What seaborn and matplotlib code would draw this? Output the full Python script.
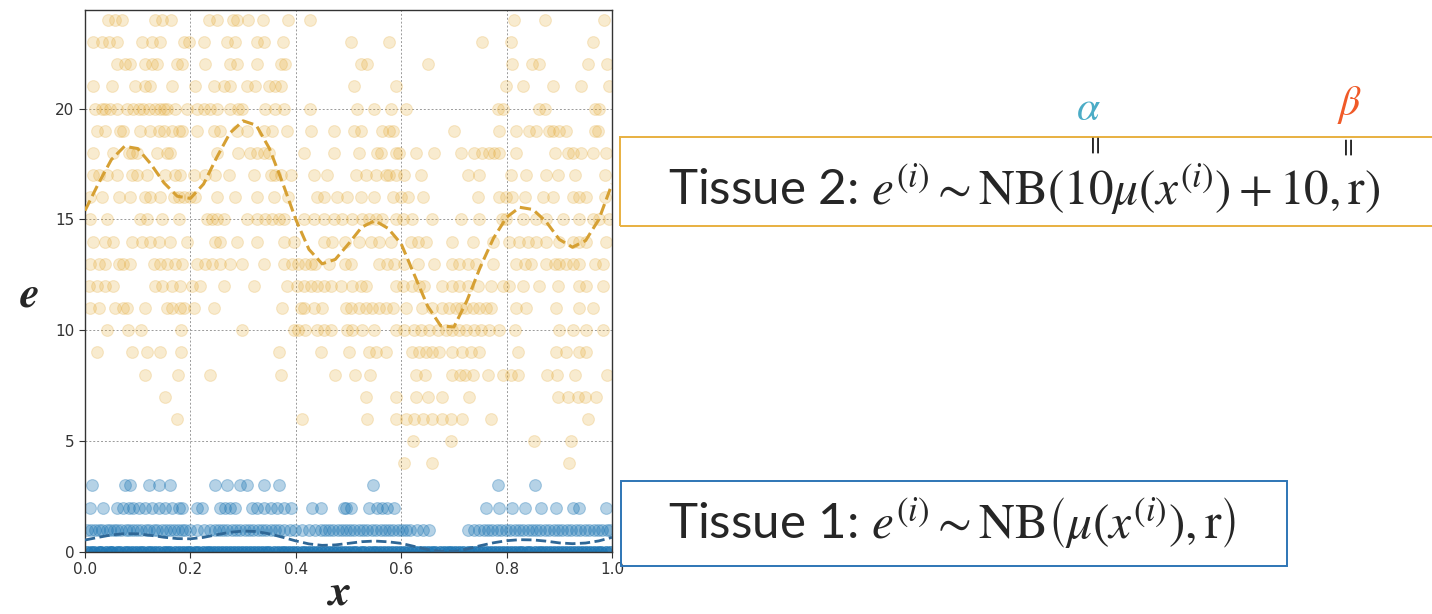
import numpy as np
import pandas as pd
import matplotlib
matplotlib.use("Agg")
import matplotlib.pyplot as plt
from matplotlib.patches import Rectangle
import seaborn as sns

# valores: posições x de cada nível de contagem e
# tecido 2 (laranja)
t2_24 = [0.043, 0.056, 0.071, 0.132, 0.147, 0.164, 0.236, 0.25, 0.28, 0.288, 0.309, 0.338, 0.385, 0.426, 0.814, 0.873, 0.985]
t2_23 = [0.016, 0.032, 0.045, 0.06, 0.108, 0.127, 0.143, 0.187, 0.197, 0.225, 0.27, 0.285, 0.326, 0.339, 0.376, 0.504, 0.577, 0.754, 0.808, 0.963]
t2_22 = [0.06, 0.076, 0.086, 0.114, 0.127, 0.137, 0.175, 0.184, 0.228, 0.276, 0.288, 0.326, 0.371, 0.38, 0.523, 0.536, 0.65, 0.811, 0.849, 0.862, 0.954, 0.99]
t2_21 = [0.016, 0.051, 0.095, 0.114, 0.124, 0.165, 0.209, 0.244, 0.263, 0.276, 0.307, 0.323, 0.349, 0.361, 0.371, 0.511, 0.59, 0.799, 0.831, 0.888, 0.942, 0.995]
t2_20 = [0.019, 0.032, 0.038, 0.048, 0.06, 0.079, 0.092, 0.102, 0.111, 0.121, 0.133, 0.143, 0.149, 0.155, 0.171, 0.193, 0.212, 0.225, 0.238, 0.25, 0.276, 0.291, 0.298, 0.342, 0.361, 0.377, 0.426, 0.517, 0.549, 0.581, 0.609, 0.783, 0.793, 0.862, 0.872, 0.967, 0.976]
t2_19 = [0.022, 0.038, 0.067, 0.073, 0.105, 0.124, 0.14, 0.149, 0.165, 0.178, 0.184, 0.212, 0.244, 0.257, 0.288, 0.307, 0.339, 0.355, 0.383, 0.428, 0.472, 0.511, 0.523, 0.564, 0.577, 0.584, 0.701, 0.786, 0.818, 0.843, 0.856, 0.881, 0.888, 0.9, 0.913, 0.967, 0.973]
t2_18 = [0.016, 0.054, 0.083, 0.089, 0.098, 0.137, 0.155, 0.162, 0.25, 0.291, 0.314, 0.326, 0.339, 0.349, 0.415, 0.472, 0.52, 0.555, 0.562, 0.59, 0.596, 0.628, 0.663, 0.713, 0.739, 0.754, 0.767, 0.777, 0.786, 0.818, 0.891, 0.916, 0.926, 0.942, 0.964, 0.989]
t2_17 = [0.016, 0.026, 0.041, 0.06, 0.089, 0.098, 0.117, 0.152, 0.171, 0.181, 0.206, 0.228, 0.247, 0.273, 0.32, 0.352, 0.361, 0.371, 0.39, 0.434, 0.459, 0.514, 0.533, 0.552, 0.571, 0.577, 0.59, 0.606, 0.637, 0.726, 0.748, 0.808, 0.837, 0.875, 0.897, 0.929, 0.986]
t2_16 = [0.01, 0.032, 0.064, 0.086, 0.114, 0.124, 0.143, 0.168, 0.178, 0.187, 0.2, 0.209, 0.25, 0.285, 0.326, 0.358, 0.386, 0.44, 0.453, 0.478, 0.497, 0.523, 0.549, 0.584, 0.599, 0.612, 0.641, 0.745, 0.786, 0.799, 0.811, 0.834, 0.869, 0.888, 0.926, 0.938, 0.951, 0.986]
t2_15 = [0.01, 0.041, 0.105, 0.117, 0.146, 0.178, 0.232, 0.241, 0.25, 0.263, 0.307, 0.326, 0.342, 0.355, 0.368, 0.377, 0.415, 0.434, 0.453, 0.472, 0.488, 0.507, 0.526, 0.539, 0.552, 0.564, 0.59, 0.603, 0.621, 0.659, 0.713, 0.748, 0.792, 0.799, 0.831, 0.856, 0.875, 0.907, 0.938, 0.964, 0.976, 0.995]
t2_14 = [0.016, 0.038, 0.054, 0.089, 0.108, 0.124, 0.14, 0.162, 0.193, 0.247, 0.257, 0.288, 0.326, 0.377, 0.396, 0.453, 0.469, 0.494, 0.52, 0.542, 0.558, 0.58, 0.618, 0.631, 0.647, 0.697, 0.736, 0.774, 0.805, 0.824, 0.84, 0.856, 0.875, 0.9, 0.926, 0.938, 0.951, 0.989]
t2_13 = [0.01, 0.026, 0.038, 0.064, 0.073, 0.086, 0.13, 0.143, 0.155, 0.171, 0.184, 0.212, 0.228, 0.241, 0.257, 0.276, 0.298, 0.339, 0.377, 0.393, 0.405, 0.418, 0.428, 0.437, 0.463, 0.494, 0.504, 0.558, 0.574, 0.587, 0.606, 0.631, 0.663, 0.697, 0.71, 0.726, 0.742, 0.774, 0.818, 0.834, 0.847, 0.875, 0.891, 0.9, 0.913, 0.926, 0.938, 0.967, 0.983]
t2_12 = [0.007, 0.022, 0.038, 0.054, 0.133, 0.146, 0.165, 0.181, 0.203, 0.219, 0.263, 0.32, 0.383, 0.402, 0.415, 0.428, 0.44, 0.453, 0.466, 0.485, 0.507, 0.523, 0.533, 0.59, 0.603, 0.621, 0.634, 0.644, 0.678, 0.697, 0.71, 0.726, 0.745, 0.771, 0.793, 0.805, 0.831, 0.862, 0.897, 0.938, 0.951, 0.983]
t2_11 = [0.01, 0.026, 0.057, 0.073, 0.079, 0.114, 0.155, 0.165, 0.181, 0.187, 0.206, 0.244, 0.374, 0.409, 0.415, 0.434, 0.45, 0.495, 0.504, 0.52, 0.533, 0.545, 0.558, 0.571, 0.584, 0.609, 0.64, 0.659, 0.678, 0.691, 0.704, 0.713, 0.723, 0.736, 0.748, 0.761, 0.771, 0.818, 0.837, 0.894, 0.938, 0.964]
t2_10 = [0.041, 0.082, 0.106, 0.182, 0.297, 0.396, 0.405, 0.418, 0.44, 0.453, 0.466, 0.497, 0.507, 0.526, 0.549, 0.59, 0.606, 0.625, 0.637, 0.653, 0.669, 0.685, 0.697, 0.71, 0.723, 0.739, 0.751, 0.767, 0.786, 0.815, 0.9, 0.926, 0.951, 0.983]
t2_9 = [0.022, 0.09, 0.117, 0.142, 0.182, 0.369, 0.447, 0.501, 0.539, 0.552, 0.571, 0.621, 0.634, 0.647, 0.659, 0.672, 0.697, 0.716, 0.732, 0.748, 0.821, 0.894, 0.913, 0.938, 0.951]
t2_8 = [0.114, 0.176, 0.237, 0.371, 0.474, 0.512, 0.54, 0.629, 0.645, 0.696, 0.711, 0.721, 0.736, 0.765, 0.793, 0.809, 0.822, 0.876, 0.895, 0.93, 0.99]
t2_7 = [0.152, 0.533, 0.59, 0.628, 0.65, 0.678, 0.729, 0.897, 0.916, 0.935, 0.948, 0.97]
t2_6 = [0.174, 0.412, 0.536, 0.59, 0.609, 0.625, 0.641, 0.659, 0.678, 0.694, 0.716, 0.77, 0.954]
t2_5 = [0.622, 0.694, 0.852, 0.922]
t2_4 = [0.606, 0.659, 0.919]

# tecido 1 (azul)
t1_3 = [0.013, 0.076, 0.086, 0.121, 0.14, 0.162, 0.247, 0.27, 0.295, 0.307, 0.339, 0.368, 0.546, 0.783, 0.853]
t1_2 = [0.01, 0.035, 0.06, 0.073, 0.083, 0.092, 0.102, 0.114, 0.127, 0.14, 0.152, 0.165, 0.178, 0.184, 0.212, 0.222, 0.257, 0.266, 0.276, 0.285, 0.317, 0.326, 0.339, 0.352, 0.365, 0.377, 0.39, 0.431, 0.447, 0.491, 0.495, 0.504, 0.539, 0.555, 0.564, 0.574, 0.587, 0.761, 0.786, 0.811, 0.834, 0.865, 0.894, 0.926, 0.938, 0.989]
t1_1 = [0.004, 0.012, 0.019, 0.027, 0.033, 0.041, 0.048, 0.055, 0.061, 0.069, 0.077, 0.084, 0.092, 0.098, 0.107, 0.115, 0.121, 0.13, 0.137, 0.146, 0.153, 0.161, 0.168, 0.176, 0.184, 0.19, 0.199, 0.213, 0.226, 0.238, 0.246, 0.254, 0.262, 0.27, 0.279, 0.287, 0.295, 0.304, 0.311, 0.319, 0.328, 0.336, 0.343, 0.352, 0.36, 0.368, 0.377, 0.389, 0.398, 0.412, 0.425, 0.436, 0.447, 0.455, 0.463, 0.471, 0.48, 0.487, 0.496, 0.503, 0.511, 0.519, 0.527, 0.536, 0.544, 0.552, 0.561, 0.569, 0.577, 0.585, 0.593, 0.601, 0.609, 0.617, 0.63, 0.641, 0.653, 0.727, 0.738, 0.748, 0.757, 0.765, 0.773, 0.781, 0.79, 0.798, 0.806, 0.815, 0.823, 0.831, 0.84, 0.848, 0.856, 0.864, 0.873, 0.881, 0.889, 0.898, 0.906, 0.914, 0.923, 0.931, 0.94, 0.948, 0.956, 0.965, 0.973, 0.981, 0.99, 0.997]
t1_0 = [0.004, 0.011, 0.018, 0.026, 0.031, 0.039, 0.047, 0.052, 0.06, 0.067, 0.075, 0.081, 0.09, 0.096, 0.104, 0.111, 0.119, 0.126, 0.133, 0.141, 0.149, 0.156, 0.162, 0.171, 0.178, 0.186, 0.193, 0.2, 0.208, 0.215, 0.223, 0.231, 0.238, 0.245, 0.253, 0.26, 0.268, 0.276, 0.283, 0.29, 0.298, 0.305, 0.313, 0.321, 0.328, 0.335, 0.343, 0.35, 0.358, 0.366, 0.373, 0.38, 0.388, 0.395, 0.403, 0.411, 0.418, 0.425, 0.433, 0.44, 0.448, 0.456, 0.463, 0.47, 0.478, 0.485, 0.493, 0.501, 0.508, 0.515, 0.523, 0.53, 0.538, 0.546, 0.553, 0.56, 0.568, 0.575, 0.583, 0.591, 0.598, 0.605, 0.613, 0.62, 0.628, 0.636, 0.643, 0.65, 0.658, 0.665, 0.673, 0.681, 0.688, 0.695, 0.703, 0.71, 0.718, 0.726, 0.733, 0.74, 0.748, 0.755, 0.763, 0.771, 0.778, 0.785, 0.793, 0.8, 0.808, 0.816, 0.823, 0.83, 0.838, 0.845, 0.853, 0.861, 0.868, 0.875, 0.883, 0.89, 0.898, 0.906, 0.913, 0.92, 0.928, 0.935, 0.943, 0.951, 0.958, 0.965, 0.973, 0.98, 0.988, 0.996]

# curvas tracejadas: mu(x) (tecido 1) e 10*mu(x)+10 (tecido 2)
curva_x = [0.0, 0.025, 0.05, 0.075, 0.1, 0.125, 0.15, 0.175, 0.2, 0.225, 0.25, 0.275, 0.3, 0.325, 0.35, 0.375, 0.4, 0.425, 0.45, 0.475, 0.5,
           0.525, 0.55, 0.575, 0.6, 0.625, 0.65, 0.675, 0.7, 0.725, 0.75, 0.775, 0.8, 0.825, 0.85, 0.875, 0.9, 0.925, 0.95, 0.975, 1.0]
mu_y = [0.54, 0.66, 0.77, 0.83, 0.82, 0.75, 0.665, 0.605, 0.595, 0.66, 0.78, 0.89, 0.945, 0.925, 0.82, 0.665, 0.5, 0.365, 0.3, 0.32, 0.39,
        0.465, 0.495, 0.46, 0.39, 0.25, 0.11, 0.02, 0.015, 0.135, 0.285, 0.415, 0.51, 0.555, 0.545, 0.49, 0.41, 0.375, 0.405, 0.5, 0.66]
alpha_coef = 10
beta_coef = 10

niveis_t2 = {24: t2_24, 23: t2_23, 22: t2_22, 21: t2_21, 20: t2_20, 19: t2_19, 18: t2_18, 17: t2_17,
             16: t2_16, 15: t2_15, 14: t2_14, 13: t2_13, 12: t2_12, 11: t2_11, 10: t2_10, 9: t2_9,
             8: t2_8, 7: t2_7, 6: t2_6, 5: t2_5, 4: t2_4}
niveis_t1 = {3: t1_3, 2: t1_2, 1: t1_1}

df_t2 = pd.DataFrame([(x, e) for e, xs in niveis_t2.items() for x in xs], columns=["x", "e"])
df_t1 = pd.DataFrame([(x, e) for e, xs in niveis_t1.items() for x in xs], columns=["x", "e"])
df_t1_zero = pd.DataFrame({"x": t1_0, "e": 0})
df_curva = pd.DataFrame({"x": curva_x, "mu": mu_y})
df_curva["mu2"] = alpha_coef * df_curva["mu"] + beta_coef

sns.set_style("ticks")
plt.rcParams["mathtext.fontset"] = "stix"
plt.rcParams["font.family"] = ["DejaVu Sans"]

fig = plt.figure(figsize=(14.32, 6.14), dpi=100)
W, H = 1432, 614
ax = fig.add_axes([85 / W, (H - 552) / H, 527 / W, 542 / H])

laranja = "#E2A428"
azul = "#1f77b4"

sns.scatterplot(data=df_t2, x="x", y="e", color=laranja, alpha=0.22, s=72,
                edgecolor=laranja, linewidth=0.8, ax=ax, zorder=2)
sns.lineplot(data=df_curva, x="x", y="mu2", color="#D6A033", linestyle="--",
             linewidth=2.2, estimator=None, sort=False, ax=ax, zorder=3)
sns.scatterplot(data=df_t1, x="x", y="e", color=azul, alpha=0.33, s=72,
                edgecolor=azul, linewidth=0.8, ax=ax, zorder=2)
sns.scatterplot(data=df_t1_zero, x="x", y="e", color=azul, alpha=0.7, s=72,
                edgecolor=azul, linewidth=0.8, ax=ax, zorder=2)
sns.lineplot(data=df_curva, x="x", y="mu", color="#2f6796", linestyle="--",
             linewidth=2.0, estimator=None, sort=False, ax=ax, zorder=3)

ax.set_xlim(0, 1)
ax.set_ylim(0, 24.45)
ax.set_xticks([0, 0.2, 0.4, 0.6, 0.8, 1.0])
ax.set_yticks([0, 5, 10, 15, 20])
ax.set_xticklabels(["0.0", "0.2", "0.4", "0.6", "0.8", "1.0"])
ax.tick_params(labelsize=11, colors="#333333", length=4, width=0.8)
ax.grid(True, linestyle=(0, (2, 2)), linewidth=0.7, color="#9a9a9a")
for lado in ["left", "right", "top", "bottom"]:
    ax.spines[lado].set_visible(True)
    ax.spines[lado].set_color("#333333")
    ax.spines[lado].set_linewidth(1.0)

ax.set_xlabel("x", fontsize=32, family="STIXGeneral", style="italic", weight="bold", va="center")
ax.set_ylabel("e", fontsize=32, family="STIXGeneral", style="italic", weight="bold",
              rotation=0, va="center", ha="center")
ax.xaxis.set_label_coords((340 - 85) / 527, (552 - 594) / 542)
ax.yaxis.set_label_coords((30 - 85) / 527, (552 - 296) / 542)


def px(x, y):
    return x / W, 1 - y / H


# caixas das fórmulas
fig.add_artist(Rectangle(px(620, 226), (W + 10 - 620) / W, (226 - 137) / H, transform=fig.transFigure,
                         fill=False, edgecolor="#E8B040", linewidth=1.4, clip_on=False))
fig.add_artist(Rectangle(px(621, 566), (1287 - 621) / W, (566 - 481) / H, transform=fig.transFigure,
                         fill=False, edgecolor="#2E75B6", linewidth=1.4, clip_on=False))

fig.text(*px(668, 189), r"Tissue 2: $e^{(i)}{\sim}\mathrm{NB}(10\mu\left(x^{(i)}\right)+10,\mathrm{r})$",
         fontsize=35.5, family=["Lato", "DejaVu Sans"], va="center", ha="left")
fig.text(*px(668, 523), r"Tissue 1: $e^{(i)}{\sim}\mathrm{NB}\left(\mu\left(x^{(i)}\right),\mathrm{r}\right)$",
         fontsize=35.5, family=["Lato", "DejaVu Sans"], va="center", ha="left")

fig.text(*px(1088, 108), r"$\alpha$", fontsize=30, color="#4BACC6", ha="center", va="center")
fig.text(*px(1094, 143), "=", fontsize=18, rotation=90, ha="center", va="center")
fig.text(*px(1350, 105), r"$\beta$", fontsize=30, color="#F05A28", ha="center", va="center")
fig.text(*px(1347, 145), "=", fontsize=18, rotation=90, ha="center", va="center")

fig.savefig("out.png", dpi=100)
